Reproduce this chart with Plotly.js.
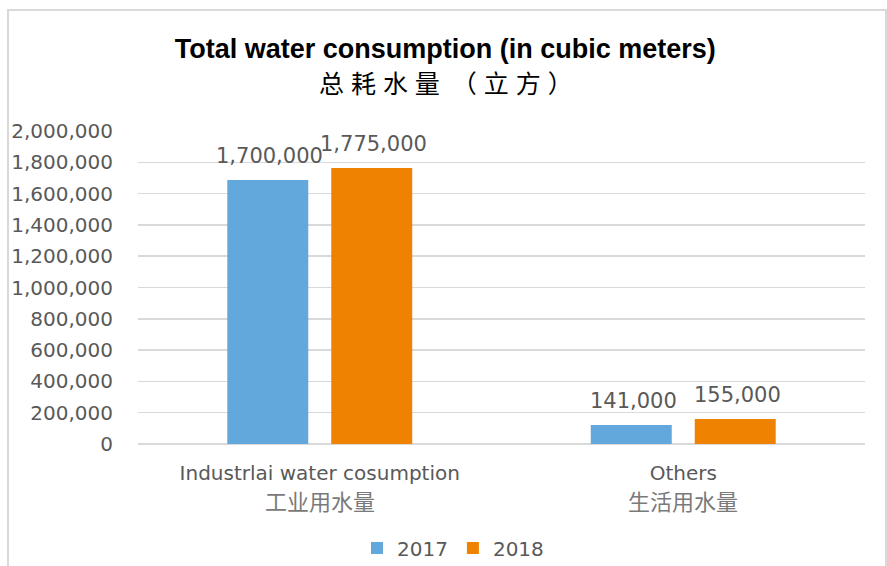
<!DOCTYPE html>
<html>
<head>
<meta charset="utf-8">
<script src="https://cdn.plot.ly/plotly-3.0.1.min.js"></script>
<style>
  html, body { margin: 0; padding: 0; background: #fff; overflow: hidden; }
  #wrap { position: relative; width: 887px; height: 566px; }
  #frame { position: absolute; left: 7px; top: 9px; width: 880px; height: 620px;
           border: 2px solid #d9d9d9; box-sizing: border-box; pointer-events: none; }
</style>
</head>
<body>
<div id="wrap">
  <div id="chart" style="width:887px;height:566px;"></div>
  <div id="frame"></div>
</div>
<script>
// ---- data ----
const categories = ['Industrlai water cosumption', 'Others'];
const categoriesZh = ['工业用水量', '生活用水量'];
const seriesNames = ['2017', '2018'];
const values2017 = [1687000, 121000];
const values2018 = [1764000, 160000];
const labels2017 = ['1,700,000', '141,000'];
const labels2018 = ['1,775,000', '155,000'];
const titleEn = 'Total water consumption (in cubic meters)';
const titleZh = '总\u00a0耗\u00a0水\u00a0量\u00a0\u2009（\u00a0立\u00a0方\u00a0）';

// ---- style ----
const colors = ['#62A8DC', '#EF8200'];
const grey = '#595959';
const baseFont = 'DejaVu Sans, Noto Sans CJK SC, sans-serif';

const traces = [
  { type: 'bar', name: seriesNames[0], x: categories, y: values2017,
    marker: { color: colors[0] }, hoverinfo: 'none' },
  { type: 'bar', name: seriesNames[1], x: categories, y: values2018,
    marker: { color: colors[1] }, hoverinfo: 'none' }
];

const annotations = [];
[[values2017, labels2017, -52], [values2018, labels2018, 52]].forEach(([vals, labs, dx]) => {
  vals.forEach((v, i) => {
    annotations.push({
      x: categories[i], y: v, xref: 'x', yref: 'y',
      text: labs[i], showarrow: false, xanchor: 'center', yanchor: 'middle',
      xshift: dx + 2, yshift: 24,
      font: { family: baseFont, size: 21, color: grey }
    });
  });
});
// Chinese second line of each category label
categoriesZh.forEach((zh, i) => {
  annotations.push({
    x: categories[i], xref: 'x', yref: 'paper', y: -0.179,
    text: zh, showarrow: false, xanchor: 'center', yanchor: 'middle',
    font: { family: 'Noto Sans CJK SC, sans-serif', size: 22, color: '#7a7a7a' }
  });
});
annotations.push({
  xref: 'paper', yref: 'paper', x: (446 - 138) / 727, y: 1.15,
  xanchor: 'center', yanchor: 'middle', showarrow: false,
  text: titleZh,
  font: { family: 'Liberation Sans, Noto Sans CJK SC, sans-serif', size: 25, color: '#000' }
});

const layout = {
  width: 887, height: 566,
  margin: { l: 138, r: 22, t: 131, b: 122, pad: 0 },
  paper_bgcolor: 'rgba(0,0,0,0)', plot_bgcolor: '#fff',
  title: {
    text: titleEn,
    font: { family: 'Liberation Sans, Arial, sans-serif', size: 27, color: '#000', weight: 'bold' },
    x: 0.502, xref: 'container', xanchor: 'center',
    y: 1 - 49 / 566, yref: 'container', yanchor: 'middle'
  },
  barmode: 'group', bargap: 0.428, bargroupgap: 0.221,
  xaxis: {
    type: 'category', tickmode: 'array', tickvals: categories, ticktext: categories,
    showgrid: false, showline: false, zeroline: false, ticks: '',
    ticklabelstandoff: 15,
    tickfont: { family: baseFont, size: 20, color: grey }
  },
  yaxis: {
    range: [0, 2000000], tickmode: 'linear', tick0: 0, dtick: 200000,
    tickformat: ',d', showline: false, ticks: '',
    gridcolor: '#d9d9d9', gridwidth: 1.5,
    zeroline: true, zerolinecolor: '#d9d9d9', zerolinewidth: 1.5,
    ticklabelstandoff: 24,
    tickfont: { family: baseFont, size: 20, color: grey }
  },
  showlegend: true,
  legend: {
    orientation: 'h', xref: 'container', yref: 'container',
    x: 453 / 887, xanchor: 'center', y: 1 - 548 / 566, yanchor: 'middle',
    font: { family: baseFont, size: 20, color: grey },
    itemwidth: 30, traceorder: 'normal'
  },
  annotations: annotations
};

Plotly.newPlot('chart', traces, layout, { staticPlot: true, displayModeBar: false });
</script>
</body>
</html>
